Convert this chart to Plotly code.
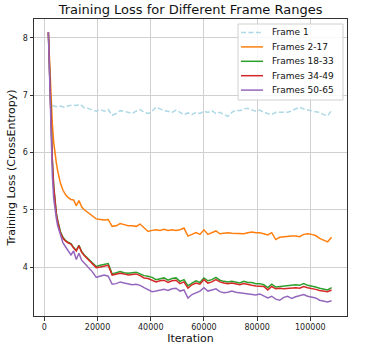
import plotly.graph_objects as go

# ---- data ----
iters_early = [1500, 2000, 2500, 3000, 3500, 4000, 4500, 5000, 6000, 7000,
               8000, 9000, 10000, 11000, 12000, 13000, 14000, 15000]
iters_late = list(range(16500, 108001, 1500))
iterations = iters_early + iters_late

frame1_iterations = list(range(3000, 108001, 1500))
frame1 = [6.82, 6.80, 6.81, 6.79, 6.81, 6.83, 6.82, 6.84, 6.78, 6.77,
          6.74, 6.72, 6.75, 6.72, 6.75, 6.65, 6.68, 6.73, 6.72, 6.70,
          6.68, 6.72, 6.75, 6.70, 6.68, 6.72, 6.79, 6.76, 6.73, 6.72,
          6.70, 6.74, 6.70, 6.66, 6.69, 6.66, 6.70, 6.68, 6.72, 6.70,
          6.73, 6.68, 6.70, 6.66, 6.63, 6.70, 6.74, 6.73, 6.76, 6.77,
          6.74, 6.72, 6.74, 6.70, 6.68, 6.66, 6.70, 6.70, 6.69, 6.70,
          6.73, 6.76, 6.79, 6.76, 6.74, 6.72, 6.71, 6.70, 6.66, 6.64,
          6.73]

frames_2_17 = [8.10, 7.50, 6.95, 6.50, 6.18, 5.97, 5.82, 5.68, 5.47, 5.34,
               5.26, 5.21, 5.18, 5.17, 5.07, 5.16, 5.05, 5.00,
               4.95, 4.90, 4.84, 4.83, 4.82, 4.83, 4.71, 4.72, 4.76, 4.74,
               4.72, 4.72, 4.71, 4.75, 4.68, 4.62, 4.64, 4.65, 4.64, 4.66,
               4.64, 4.65, 4.64, 4.65, 4.68, 4.54, 4.57, 4.60, 4.57, 4.65,
               4.57, 4.60, 4.63, 4.58, 4.59, 4.60, 4.59, 4.59, 4.59, 4.58,
               4.60, 4.61, 4.60, 4.60, 4.58, 4.56, 4.60, 4.48, 4.52, 4.53,
               4.54, 4.54, 4.54, 4.53, 4.57, 4.58, 4.57, 4.55, 4.50, 4.47,
               4.44, 4.52]

frames_18_33 = [8.10, 7.30, 6.50, 5.87, 5.42, 5.12, 4.94, 4.82, 4.62, 4.52,
                4.46, 4.43, 4.41, 4.34, 4.29, 4.38, 4.27, 4.21,
                4.14, 4.07, 4.01, 4.03, 4.04, 4.06, 3.88, 3.90, 3.92, 3.90,
                3.89, 3.90, 3.91, 3.88, 3.85, 3.84, 3.82, 3.78, 3.80, 3.81,
                3.77, 3.80, 3.81, 3.75, 3.78, 3.67, 3.72, 3.76, 3.73, 3.81,
                3.76, 3.78, 3.82, 3.77, 3.75, 3.74, 3.75, 3.73, 3.72, 3.75,
                3.73, 3.73, 3.71, 3.71, 3.69, 3.64, 3.70, 3.65, 3.66, 3.66,
                3.68, 3.68, 3.69, 3.68, 3.71, 3.68, 3.67, 3.65, 3.63, 3.61,
                3.60, 3.64]

frames_34_49 = [8.10, 7.30, 6.50, 5.85, 5.40, 5.10, 4.92, 4.80, 4.60, 4.50,
                4.45, 4.42, 4.40, 4.33, 4.28, 4.37, 4.26, 4.20,
                4.13, 4.06, 3.99, 4.00, 4.02, 4.03, 3.86, 3.88, 3.89, 3.88,
                3.86, 3.87, 3.88, 3.85, 3.81, 3.80, 3.77, 3.74, 3.76, 3.77,
                3.73, 3.76, 3.77, 3.71, 3.74, 3.63, 3.69, 3.72, 3.70, 3.78,
                3.72, 3.74, 3.78, 3.74, 3.72, 3.71, 3.72, 3.70, 3.69, 3.71,
                3.69, 3.68, 3.67, 3.67, 3.66, 3.60, 3.66, 3.62, 3.63, 3.62,
                3.63, 3.63, 3.64, 3.63, 3.66, 3.64, 3.63, 3.61, 3.59, 3.58,
                3.57, 3.60]

frames_50_65 = [8.10, 7.10, 6.30, 5.60, 5.20, 4.98, 4.85, 4.72, 4.55, 4.42,
                4.35, 4.28, 4.21, 4.28, 4.13, 4.24, 4.12, 4.07,
                4.00, 3.92, 3.82, 3.84, 3.86, 3.84, 3.70, 3.71, 3.74, 3.72,
                3.70, 3.69, 3.70, 3.68, 3.64, 3.60, 3.57, 3.58, 3.60, 3.61,
                3.59, 3.62, 3.63, 3.58, 3.60, 3.46, 3.52, 3.55, 3.58, 3.64,
                3.58, 3.60, 3.62, 3.57, 3.55, 3.56, 3.58, 3.56, 3.55, 3.54,
                3.53, 3.52, 3.51, 3.53, 3.50, 3.46, 3.49, 3.44, 3.42, 3.47,
                3.49, 3.45, 3.48, 3.50, 3.52, 3.49, 3.48, 3.46, 3.42, 3.41,
                3.39, 3.41]

series_names = ["Frame 1", "Frames 2-17", "Frames 18-33", "Frames 34-49", "Frames 50-65"]
series_colors = ["#add8e6", "#ff7f0e", "#2ca02c", "#d62728", "#9467bd"]
x_ticks = [0, 20000, 40000, 60000, 80000, 100000]
x_tick_labels = ["0", "20000", "40000", "60000", "80000", "100000"]
y_ticks = [4, 5, 6, 7, 8]

# ---- layout geometry (pixels) ----
W, H = 370, 345
ML, MR, MT, MB = 34, 23, 19, 29
PW, PH = W - ML - MR, H - MT - MB
FONT = "DejaVu Sans"
DASH = "5px,2.4px"


def px_to_paper(px, py):
    return (px - ML) / PW, (H - MB - py) / PH


fig = go.Figure()
all_x = [frame1_iterations, iterations, iterations, iterations, iterations]
all_y = [frame1, frames_2_17, frames_18_33, frames_34_49, frames_50_65]
for i, (xs, ys) in enumerate(zip(all_x, all_y)):
    fig.add_trace(go.Scatter(
        x=xs, y=ys, mode="lines", name=series_names[i], showlegend=False,
        line=dict(color=series_colors[i], width=1.5,
                  dash=DASH if i == 0 else "solid")))

# ---- legend (drawn in paper coordinates) ----
shapes = []
annotations = []
x0, y0 = px_to_paper(238, 24)
x1, y1 = px_to_paper(343, 100)
shapes.append(dict(type="rect", xref="paper", yref="paper", x0=x0, y0=y1, x1=x1, y1=y0,
                   fillcolor="rgba(255,255,255,0.85)", line=dict(color="#d0d0d0", width=1),
                   layer="above"))
row_y = [32.5, 46.9, 61.3, 75.7, 90.1]
for i, name in enumerate(series_names):
    lx0, ly = px_to_paper(241, row_y[i])
    lx1, _ = px_to_paper(263, row_y[i])
    shapes.append(dict(type="line", xref="paper", yref="paper", x0=lx0, x1=lx1, y0=ly, y1=ly,
                       line=dict(color=series_colors[i], width=1.5,
                                 dash=DASH if i == 0 else "solid"),
                       layer="above"))
    tx, _ = px_to_paper(270, row_y[i])
    annotations.append(dict(text=name, xref="paper", yref="paper", x=tx, y=ly,
                            xanchor="left", yanchor="middle", showarrow=False,
                            font=dict(family=FONT, size=9, color="#111111")))

axis_common = dict(showgrid=True, gridcolor="#d0d0d0", gridwidth=0.8,
                   showline=True, mirror=True, linecolor="#333333", linewidth=1,
                   ticks="outside", ticklen=3.5, tickcolor="#333333", tickwidth=0.8,
                   tickfont=dict(family=FONT, size=8, color="#222222"),
                   zeroline=False)

fig.update_layout(
    width=W, height=H,
    margin=dict(l=ML, r=MR, t=MT, b=MB),
    paper_bgcolor="white", plot_bgcolor="white",
    title=dict(text="Training Loss for Different Frame Ranges",
               font=dict(family=FONT, size=13, color="#111111"),
               x=0.515, xanchor="center", y=0.972, yanchor="middle"),
    xaxis=dict(range=[-3900, 113800], tickvals=x_ticks, ticktext=x_tick_labels,
               title=dict(text="Iteration", font=dict(family=FONT, size=11, color="#111111"),
                          standoff=9),
               automargin=False,
               **axis_common),
    yaxis=dict(range=[3.145, 8.33], tickvals=y_ticks,
               title=dict(text="Training Loss (CrossEntropy)",
                          font=dict(family=FONT, size=11, color="#111111"), standoff=4),
               automargin=False,
               **axis_common),
    shapes=shapes,
    annotations=annotations,
    showlegend=False,
)

fig.write_html("out.html")
